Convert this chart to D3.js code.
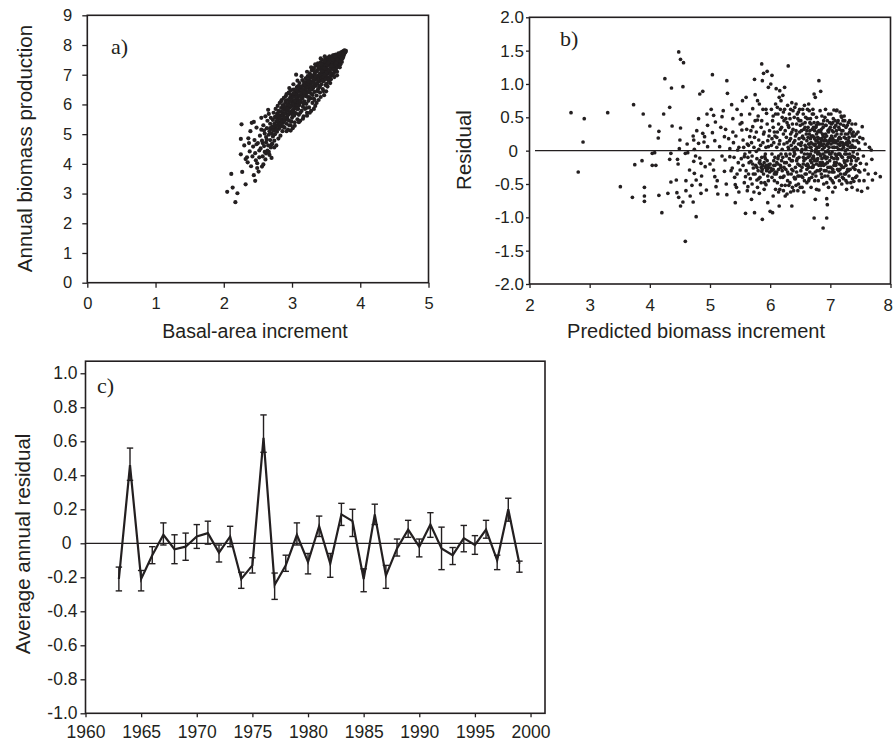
<!DOCTYPE html>
<html>
<head>
<meta charset="utf-8">
<script src="https://cdn.jsdelivr.net/npm/d3@7"></script>
<style>
  body { margin: 0; background: #fff; }
  svg text { font-family: "Liberation Sans", Arial, Helvetica, sans-serif; fill: #231f20; }
</style>
</head>
<body>
<svg id="fig" width="893" height="743"></svg>
<script>
// ---- panel a: basal-area increment vs annual biomass production ----
const basalVsBiomass = [
  [2.05,3.06],[2.11,3.66],[2.13,3.20],[2.17,2.71],[2.20,3.01],[2.25,4.32],[2.25,4.84],[2.26,5.33],
  [2.27,3.73],[2.32,3.31],[2.32,4.16],[2.30,4.62],[2.35,4.05],[2.36,4.86],[2.39,5.10],[2.38,4.42],
  [2.40,3.92],[2.42,4.25],[2.43,4.58],[2.44,5.41],[2.44,3.62],[2.45,4.80],[2.46,3.43],[2.47,4.12],
  [2.46,4.36],[2.48,4.66],[2.49,3.86],[2.48,5.22],[2.49,4.02],[2.41,5.38],[2.37,4.70],[2.34,4.22],
  [2.51,3.74],[2.52,4.45],[2.50,4.70],[2.53,4.95],[2.54,4.52],[2.55,5.15],[2.56,3.91],[2.57,4.25],
  [2.58,3.98],[2.56,4.78],[2.59,4.60],[2.58,5.30],[2.60,4.40],[2.55,5.55],[2.60,5.02],
  [2.61,4.15],[2.62,4.72],[2.62,4.90],[2.63,5.20],[2.64,4.45],[2.64,5.45],[2.65,4.62],[2.66,4.98],
  [2.66,5.68],[2.67,4.30],[2.67,5.10],[2.68,4.80],[2.68,5.35],[2.69,4.55],[2.69,5.55],[2.70,5.02],
  [2.70,4.20],[2.65,5.82],[2.61,5.60],
  [2.52,4.22],[2.57,4.70],[2.59,5.12],[2.62,4.35],[2.63,4.82],[2.66,4.40],[2.68,5.20],[2.70,4.65],
  [2.72,5.15],[2.74,4.55],
  [2.71,4.68],[2.71,5.25],[2.72,4.92],[2.72,5.48],[2.73,5.12],[2.73,5.72],[2.74,4.78],[2.74,5.35],
  [2.75,5.58],[2.75,5.00],[2.76,5.22],[2.76,5.85],[2.77,4.62],[2.77,5.42],[2.78,5.68],[2.78,5.08],
  [2.79,5.30],[2.79,5.95],[2.80,4.85],[2.80,5.52],
  [2.81,5.18],[2.81,5.75],[2.82,5.40],[2.82,6.05],[2.83,4.95],[2.83,5.62],[2.84,5.28],[2.84,5.88],
  [2.85,5.50],[2.85,6.15],[2.86,5.10],[2.86,5.72],[2.87,5.38],[2.87,5.98],[2.88,5.60],[2.88,6.22],
  [2.89,5.22],[2.89,5.82],[2.90,5.48],[2.90,6.05],[2.84,6.10],
  [2.91,5.70],[2.91,6.28],[2.92,5.35],[2.92,5.92],[2.93,5.58],[2.93,6.15],[2.94,5.15],[2.94,5.80],
  [2.95,6.02],[2.95,6.40],[2.96,5.45],[2.96,5.68],[2.97,6.22],[2.97,5.90],[2.98,5.30],[2.98,6.48],
  [2.99,5.75],[2.99,6.08],[3.00,5.55],[3.00,6.30],[3.00,5.95],
  [3.01,5.20],[3.01,6.12],[3.02,5.82],[3.02,6.50],[3.03,5.62],[3.03,6.28],[3.04,6.02],[3.04,5.40],
  [3.05,6.40],[3.05,5.92],[3.06,6.18],[3.06,7.00],[3.06,5.70],[3.07,6.58],[3.07,6.05],[3.08,5.50],
  [3.08,6.32],[3.09,5.85],[3.09,6.62],[3.10,6.15],[3.10,5.65],[3.10,6.45],
  [3.11,5.98],[3.11,6.72],[3.12,6.30],[3.12,5.45],[3.13,6.55],[3.13,6.08],[3.14,5.78],[3.14,6.40],
  [3.15,6.82],[3.15,6.20],[3.16,5.92],[3.16,6.62],[3.17,6.35],[3.17,5.60],[3.18,6.75],[3.18,6.10],
  [3.19,6.48],[3.19,5.85],[3.20,6.88],[3.20,6.28],[3.20,6.60],
  [3.21,6.02],[3.21,6.45],[3.22,6.72],[3.22,5.72],[3.23,6.25],[3.23,6.95],[3.24,6.55],[3.24,6.12],
  [3.25,6.80],[3.25,5.90],[3.26,6.40],[3.26,7.05],[3.27,6.65],[3.27,6.20],[3.28,5.78],[3.28,6.90],
  [3.29,6.50],[3.29,7.15],[3.30,6.32],[3.30,6.75],[3.30,6.05],
  [3.31,6.95],[3.31,6.55],[3.32,7.22],[3.32,6.20],[3.33,6.82],[3.33,6.42],[3.34,7.08],[3.34,5.95],
  [3.35,6.62],[3.35,7.30],[3.36,6.88],[3.36,6.30],[3.37,7.15],[3.37,6.70],[3.38,6.50],[3.38,7.38],
  [3.39,6.95],[3.39,6.15],[3.40,7.22],[3.40,6.78],[3.40,6.58],
  [3.41,7.05],[3.41,6.40],[3.42,7.42],[3.42,6.88],[3.43,6.68],[3.43,7.18],[3.44,6.95],[3.44,7.50],
  [3.45,6.52],[3.45,7.28],[3.46,7.05],[3.46,6.78],[3.47,6.31],[3.47,7.40],[3.48,7.15],[3.48,6.90],
  [3.49,7.55],[3.49,6.65],[3.50,6.44],[3.50,7.30],[3.50,7.02],
  [3.51,6.70],[3.51,7.48],[3.52,7.18],[3.52,6.92],[3.53,7.58],[3.53,7.05],[3.54,6.80],[3.54,7.35],
  [3.55,7.62],[3.55,7.12],[3.56,6.95],[3.56,7.45],[3.57,7.25],[3.57,6.85],[3.58,7.60],[3.58,7.05],
  [3.59,7.38],[3.59,6.98],[3.60,7.65],[3.60,7.20],
  [3.61,7.45],[3.61,7.05],[3.62,7.66],[3.62,7.28],[3.63,7.52],[3.63,7.12],[3.64,7.38],[3.64,7.68],
  [3.65,7.22],[3.65,7.58],[3.66,7.42],[3.66,7.10],[3.67,7.65],[3.67,7.32],[3.68,7.50],[3.68,7.72],
  [3.69,7.38],[3.69,7.60],[3.70,7.48],[3.70,7.70],
  [3.71,7.56],[3.71,7.35],[3.72,7.75],[3.72,7.62],[3.73,7.43],[3.73,7.68],[3.74,7.78],[3.74,7.55],
  [3.75,7.70],[3.75,7.60],[3.76,7.80],[3.76,7.66],[3.77,7.82],[3.77,7.72],[3.78,7.76],[3.79,7.80],
  [2.755,5.30],[2.765,5.55],[2.775,5.15],[2.785,5.45],[2.795,5.65],[2.805,5.35],[2.815,5.60],[2.825,5.25],
  [2.835,5.50],[2.845,5.75],[2.855,5.40],[2.865,5.62],[2.875,5.85],[2.885,5.45],[2.895,5.70],[2.905,5.90],
  [2.915,5.55],[2.925,5.78],[2.935,6.00],[2.945,5.65],[2.955,5.88],[2.965,6.10],[2.975,5.72],[2.985,5.95],
  [2.995,6.18],[3.005,5.80],[3.015,6.02],[3.025,6.25],[3.035,5.88],[3.045,6.12],[3.055,6.35],[3.065,5.98],
  [3.075,6.22],[3.085,6.45],[3.095,6.05],[3.105,6.30],[3.115,6.52],[3.125,6.12],[3.135,6.38],[3.145,6.60],
  [3.155,6.25],[3.165,6.48],[3.175,6.68],[3.185,6.32],[3.195,6.55],[3.205,6.75],[3.215,6.38],[3.225,6.60],
  [3.235,6.82],[3.245,6.45],[3.255,6.68],[3.265,6.90],[3.275,6.52],[3.285,6.75],[3.295,6.95],[3.305,6.58],
  [3.315,6.82],[3.325,7.02],[3.335,6.65],[3.345,6.88],[3.355,7.10],[3.365,6.72],[3.375,6.95],[3.385,7.18],
  [3.395,6.80],[3.405,7.02],[3.415,7.25],[3.425,6.85],[3.435,7.08],[3.445,7.30],[3.455,6.92],[3.465,7.15],
  [3.475,7.35],[3.485,7.00],[3.495,7.22],[3.505,7.42],[3.515,7.08],[3.525,7.30],[3.535,7.48],[3.545,7.15],
  [3.555,7.36],[3.565,7.55],[3.575,7.20],[3.585,7.42],[3.595,7.58],[3.605,7.28],[3.615,7.50],[3.625,7.62],
  [3.635,7.35],[3.645,7.55],[3.655,7.66],[3.665,7.45],[3.675,7.58],[3.685,7.68],[3.695,7.52],[3.705,7.62],
  [3.715,7.72],[3.725,7.52],[3.735,7.62],[3.745,7.70],
  [2.92,6.35],[2.96,6.55],[3.02,6.68],[3.08,6.80],[3.14,6.95],[3.22,7.10],[3.28,7.25],[3.34,7.35],
  [3.42,7.55],[3.48,7.62],[2.92,5.10],[2.98,5.12],[3.04,5.28],[3.10,5.40],[3.16,5.52],[3.22,5.62],
  [3.26,5.72],[3.32,5.85],[3.36,6.05],[3.42,6.25],[3.46,6.45],[3.52,6.60],[3.56,6.72],[3.62,6.92],
  [3.66,6.98],[3.70,7.25],
  [2.80,5.78],[2.83,5.33],[2.86,5.95],[2.89,5.55],[2.91,6.12],[2.94,5.48],[2.97,6.35],[2.99,5.42],
  [3.02,6.38],[3.04,5.72],[3.06,6.48],[3.08,5.95],[3.11,6.60],[3.12,5.72],[3.15,6.48],[3.17,6.02],
  [3.19,6.65],[3.21,5.88],[3.23,6.70],[3.25,6.25],[3.27,6.98],[3.29,6.35],[3.31,6.72],[3.33,6.15],
  [3.35,6.95],[3.37,6.45],[3.39,7.28],[3.41,6.62],[3.43,7.35],[3.45,6.80],[3.47,7.22],[3.49,6.85],
  [3.51,7.35],[3.53,6.85],[3.55,7.48],[3.57,7.05],[3.59,7.52],[3.61,7.18],[3.63,7.62],[3.65,7.40],
  [3.67,7.50],[3.69,7.70],[3.71,7.45],[3.73,7.55],[2.78,5.28],[2.82,5.55],[2.87,5.25],[2.93,5.85],
  [2.96,5.30],[3.01,5.65],[3.07,5.85],[3.13,6.25],[3.18,6.40],[3.24,6.78],[3.28,6.62],[3.33,7.12],
  [3.38,6.82],[3.44,7.12],[3.48,7.45],[3.53,7.40],[3.58,7.30]
];
const aTicksX = [0, 1, 2, 3, 4, 5];
const aTicksY = [0, 1, 2, 3, 4, 5, 6, 7, 8, 9];

// ---- panel b: predicted biomass increment vs residual ----
const predictedVsResidual = [
  [2.69,0.57],[2.91,0.48],[2.89,0.13],[2.81,-0.32],[3.30,0.57],[3.73,0.69],[3.89,0.55],[4.00,0.37],
  [3.51,-0.54],[3.75,-0.21],[3.87,-0.15],[4.04,-0.22],[4.08,-0.03],[3.91,-0.55],[3.91,-0.68],
  [3.91,-0.76],[3.71,-0.70],
  [4.04,-0.04],[4.10,-0.22],[4.14,0.19],[4.15,0.29],[4.20,-0.93],[4.15,-0.67],[4.25,1.08],[4.23,0.55],
  [4.33,0.65],[4.36,0.94],[4.37,0.37],[4.35,-0.04],[4.33,-0.13],[4.35,-0.47],[4.30,-0.64],[4.44,-0.44],
  [4.46,-0.13],[4.47,-0.20],[4.51,0.34],[4.50,0.16],[4.49,0.03],[4.48,1.48],[4.51,1.37],[4.56,1.32],
  [4.55,0.96],[4.45,-0.63],[4.48,-0.70],[4.51,-0.83],[4.55,-0.77],[4.60,-0.45],[4.59,-0.04],[4.63,-0.03],
  [4.59,-1.36],[4.60,-0.60],[4.66,-0.29],[4.67,-0.68],[4.72,-0.77],[4.72,0.22],[4.73,0.16],[4.74,0.02],
  [4.76,-0.08],[4.73,-0.16],[4.74,-0.34],[4.77,-0.44],[4.77,-0.99],[4.81,0.48],[4.83,0.85],[4.88,0.89],
  [4.81,0.11],[4.83,-0.11],[4.85,-0.19],[4.84,-0.51],[4.85,-0.64],[4.88,0.26],[4.90,0.13],[4.91,0.21],
  [4.92,-0.24],[4.94,-0.59],[4.96,0.38],[4.96,0.06],
  [4.62,0.10],[4.70,-0.52],[4.78,0.30],[4.86,-0.38],[4.95,0.55],[5.00,-0.20],[5.08,0.15],[5.12,-0.45],
  [5.18,0.35],[5.20,-0.08],[5.27,-0.50],[5.31,0.18],[5.35,-0.30],[5.45,0.62],[5.48,-0.62],
  [5.04,1.14],[5.02,0.62],[5.06,0.53],[5.09,0.43],[5.05,-0.14],[5.06,-0.29],[5.08,-0.39],[5.10,-0.54],
  [5.04,0.27],[5.16,0.06],[5.13,-0.65],[5.22,0.60],[5.20,0.51],[5.26,0.32],[5.24,0.21],[5.25,-0.14],
  [5.24,-0.31],[5.28,1.05],[5.29,0.86],[5.28,-0.66],[5.33,0.03],[5.33,-0.09],[5.36,0.69],[5.38,0.48],
  [5.38,0.28],[5.39,0.12],[5.37,-0.26],[5.41,-0.40],[5.42,-0.51],[5.42,-0.78],[5.46,0.01],[5.47,-0.18],
  [5.50,-0.29],[5.52,0.54],[5.53,0.31],[5.54,0.75],[5.55,0.16],[5.57,-0.09],[5.59,-0.39],[5.59,-0.94],
  [5.60,0.80],[5.63,-0.54],[5.64,0.08],[5.66,0.21],[5.68,-0.16],[5.69,-0.73],[5.71,0.63],[5.71,0.36],
  [5.72,-0.26],[5.74,1.07],[5.74,-0.93],[5.75,0.84],[5.77,-0.01],[5.78,-0.44],[5.79,0.75],[5.79,0.46],
  [5.81,0.16],[5.82,-0.64],[5.83,-0.15],[5.85,-0.25],[5.86,-0.31],[5.86,1.30],[5.87,1.05],[5.87,-1.03],
  [5.89,1.16],[5.90,0.28],[5.91,-0.09],[5.93,-0.51],[5.94,0.56],[5.95,1.19],[5.96,-0.78],[5.97,0.95],
  [5.97,0.06],[5.98,-0.21],[6.00,-0.91],
  [5.40,-0.10],[5.43,0.22],[5.45,-0.35],[5.48,0.05],[5.44,-0.55],[5.50,0.40],
  [5.55,-0.22],[5.58,-0.05],[5.60,-0.30],[5.62,0.10],[5.65,-0.18],[5.67,-0.42],[5.70,-0.08],[5.72,-0.35],
  [5.74,0.20],[5.76,-0.22],[5.78,-0.12],[5.80,-0.30],[5.81,0.02],[5.83,-0.40],[5.84,-0.20],[5.86,-0.10],
  [5.87,-0.28],[5.88,0.12],[5.89,-0.35],[5.90,-0.18],[5.91,-0.48],[5.92,-0.25],[5.93,0.05],[5.94,-0.30],
  [5.95,-0.15],[5.96,-0.38],[5.97,-0.25],[5.98,0.22],[5.99,-0.32],[6.00,-0.20],[5.85,0.35],[5.75,0.45],
  [5.68,0.30],[5.62,-0.60],[5.79,-0.55],[5.95,0.40],[5.88,0.62],[5.82,0.70],[5.73,-0.62],[5.66,0.55],
  [5.52,-0.12],[5.53,0.42],[5.56,0.05],[5.57,-0.48],[5.61,0.32],[5.63,-0.10],[5.64,-0.35],[5.66,-0.02],
  [5.69,0.12],[5.70,-0.50],[5.71,-0.20],[5.73,0.05],[5.75,-0.35],[5.77,0.28],[5.78,-0.25],[5.80,0.52],
  [5.81,-0.42],[5.82,-0.18],[5.84,0.08],[5.85,-0.48],[5.86,0.45],[5.88,-0.22],[5.89,0.25],[5.90,-0.58],
  [5.92,-0.05],[5.93,0.62],[5.94,-0.22],[5.96,0.15],[5.97,-0.45],[5.99,0.30],
  [6.01,1.00],[6.03,1.13],[6.04,-0.93],[6.02,0.62],[6.05,0.35],[6.06,0.12],[6.03,-0.05],[6.08,-0.22],
  [6.02,-0.30],[6.07,-0.45],[6.09,-0.58],[6.04,0.45],[6.06,-0.15],[6.08,0.22],[6.10,0.93],[6.05,-0.68],
  [6.09,0.55],[6.01,-0.26],[6.07,-0.35],[6.03,0.18],
  [6.15,0.80],[6.16,0.90],[6.15,-0.83],[6.12,0.65],[6.14,0.40],[6.11,0.05],[6.13,-0.12],[6.18,-0.25],
  [6.17,-0.40],[6.19,-0.52],[6.12,0.28],[6.16,0.15],[6.18,-0.05],[6.14,-0.62],[6.20,0.50],[6.11,-0.32],
  [6.19,0.35],[6.13,-0.20],[6.17,0.62],
  [6.21,0.83],[6.24,0.95],[6.30,1.27],[6.22,0.58],[6.25,0.30],[6.23,0.10],[6.27,-0.08],[6.26,-0.28],
  [6.29,-0.45],[6.22,-0.60],[6.28,0.42],[6.24,-0.18],[6.27,0.20],[6.30,-0.35],[6.21,-0.10],[6.29,0.68],
  [6.25,-0.52],[6.23,0.45],[6.28,-0.65],
  [6.36,-0.83],[6.32,0.55],[6.34,0.25],[6.31,0.02],[6.35,-0.15],[6.38,-0.30],[6.33,-0.48],[6.37,0.40],
  [6.39,0.12],[6.32,-0.22],[6.36,0.72],[6.40,-0.40],[6.34,-0.62],[6.38,0.60],[6.31,0.35],[6.35,0.08],
  [6.39,-0.08],[6.33,0.48],[6.37,-0.55],
  [6.41,0.65],[6.43,0.30],[6.42,0.05],[6.45,-0.12],[6.44,-0.32],[6.47,-0.50],[6.46,0.48],[6.48,0.18],
  [6.49,-0.22],[6.41,-0.05],[6.43,0.70],[6.50,0.38],[6.46,-0.60],[6.42,0.22],[6.48,-0.38],[6.45,0.55],
  [6.47,0.10],[6.44,-0.15],[6.49,0.62],[6.41,-0.42],
  [6.02,0.08],[6.03,-0.40],[6.05,0.52],[6.06,-0.22],[6.07,0.28],[6.08,-0.10],[6.09,0.70],[6.10,-0.35],
  [6.11,0.20],[6.12,-0.48],[6.13,0.55],[6.14,-0.28],[6.15,0.10],[6.16,-0.58],[6.17,0.32],[6.18,0.75],
  [6.19,-0.15],[6.20,0.02],[6.21,-0.40],[6.22,0.25],[6.23,-0.25],[6.24,0.62],[6.25,-0.68],[6.26,0.48],
  [6.27,-0.18],[6.28,0.12],[6.29,-0.32],[6.30,0.38],[6.31,-0.52],[6.32,0.15],[6.33,-0.05],[6.34,0.62],
  [6.35,-0.35],[6.36,0.28],[6.37,-0.15],[6.38,0.02],[6.39,-0.60],[6.40,0.50],[6.41,0.15],[6.42,-0.25],
  [6.43,-0.52],[6.44,0.40],[6.45,0.02],[6.46,-0.38],[6.47,0.58],[6.48,-0.10],[6.49,0.28],[6.50,-0.55],
  [6.51,0.45],[6.53,0.20],[6.52,-0.02],[6.55,-0.20],[6.54,-0.40],[6.57,0.68],[6.56,0.32],[6.58,0.08],
  [6.59,-0.12],[6.51,-0.30],[6.53,-0.55],[6.55,0.55],[6.57,-0.05],[6.60,0.25],[6.52,0.12],[6.58,-0.35],
  [6.54,0.40],[6.56,-0.62],[6.59,0.50],[6.60,-0.22],[6.53,0.02],
  [6.61,0.15],[6.62,-0.05],[6.63,0.35],[6.64,-0.25],[6.65,0.60],[6.66,0.05],[6.67,-0.15],[6.68,0.22],
  [6.69,-0.40],[6.62,0.48],[6.64,0.10],[6.66,-0.32],[6.68,0.40],[6.61,-0.48],[6.63,-0.10],[6.65,0.25],
  [6.67,0.18],[6.69,0.00],[6.70,0.55],[6.62,-0.20],[6.66,0.30],[6.68,-0.55],[6.64,0.70],
  [6.73,0.85],[6.75,0.80],[6.75,-0.73],[6.73,-1.01],[6.71,0.10],[6.72,-0.08],[6.74,0.30],[6.76,0.15],
  [6.77,-0.20],[6.78,0.05],[6.79,0.42],[6.71,-0.35],[6.73,0.20],[6.75,-0.02],[6.77,0.25],[6.79,-0.12],
  [6.72,0.55],[6.74,-0.45],[6.76,0.35],[6.78,-0.30],[6.80,0.12],[6.71,0.62],[6.77,-0.58],[6.74,0.08],
  [6.79,0.20],
  [6.81,1.05],[6.84,0.89],[6.81,-0.59],[6.88,-1.16],[6.82,0.18],[6.83,-0.05],[6.85,0.32],[6.86,0.08],
  [6.87,-0.18],[6.89,0.45],[6.82,-0.30],[6.84,0.12],[6.86,-0.40],[6.88,0.22],[6.90,-0.10],[6.83,0.60],
  [6.85,-0.22],[6.87,0.02],[6.89,-0.50],[6.81,0.30],[6.86,0.52],[6.90,0.15],[6.84,-0.08],
  [6.94,-0.72],[6.95,-0.81],[6.94,-1.01],[6.91,0.20],[6.92,-0.02],[6.93,0.38],[6.95,0.10],[6.96,-0.25],
  [6.97,0.55],[6.98,0.05],[6.99,-0.15],[6.91,-0.38],[6.93,0.15],[6.95,-0.10],[6.97,0.28],[6.99,0.42],
  [6.92,0.62],[6.94,-0.48],[6.96,0.00],[6.98,-0.32],[7.00,0.18],[6.92,-0.20],[6.97,-0.55],
  [6.51,0.08],[6.52,0.30],[6.53,-0.25],[6.54,0.62],[6.55,-0.10],[6.56,0.18],[6.57,-0.45],[6.58,0.42],
  [6.59,0.02],[6.60,-0.35],[6.61,0.30],[6.62,0.62],[6.63,-0.22],[6.64,-0.45],[6.65,0.10],[6.66,-0.08],
  [6.67,0.48],[6.68,0.05],[6.69,-0.25],[6.70,0.32],[6.70,-0.12],[6.71,0.22],[6.72,-0.22],[6.73,0.42],
  [6.74,-0.15],[6.75,0.10],[6.76,-0.38],[6.77,0.50],[6.78,0.15],[6.79,-0.05],[6.80,-0.45],[6.81,0.05],
  [6.82,0.40],[6.83,-0.18],[6.84,0.28],[6.85,-0.35],[6.86,0.18],[6.87,0.40],[6.88,-0.05],[6.89,0.10],
  [6.90,-0.30],[6.91,0.50],[6.92,0.25],[6.93,-0.12],[6.94,0.08],[6.95,0.45],[6.96,-0.38],[6.97,0.12],
  [6.98,0.32],[6.99,-0.05],[7.00,-0.42],
  [7.01,0.10],[7.02,-0.10],[7.03,0.30],[7.04,-0.28],[7.05,0.48],[7.06,0.05],[7.07,-0.18],[7.08,0.22],
  [7.09,-0.40],[7.01,0.55],[7.03,-0.02],[7.05,-0.48],[7.06,0.61],[7.07,0.35],[7.09,0.12],[7.10,-0.08],
  [7.02,0.40],[7.04,0.18],[7.08,-0.55],[7.10,0.60],[7.04,-0.62],[7.06,-0.32],
  [7.11,0.61],[7.19,0.50],[7.12,0.15],[7.13,-0.05],[7.14,0.35],[7.15,-0.20],[7.16,0.08],[7.17,-0.35],
  [7.18,0.25],[7.11,-0.12],[7.13,0.45],[7.15,-0.45],[7.16,0.58],[7.18,-0.08],[7.20,0.12],[7.12,-0.28],
  [7.14,0.02],[7.17,0.40],[7.19,-0.50],[7.15,0.20],[7.20,-0.25],
  [7.21,0.30],[7.22,0.05],[7.23,-0.15],[7.24,0.45],[7.25,-0.35],[7.26,0.18],[7.27,-0.05],[7.28,-0.48],
  [7.29,0.25],[7.22,-0.25],[7.24,0.10],[7.26,-0.22],[7.28,0.38],[7.30,-0.10],[7.23,0.52],[7.27,-0.58],
  [7.25,0.00],[7.30,0.15],
  [7.01,-0.25],[7.02,0.22],[7.03,-0.45],[7.04,0.42],[7.05,0.12],[7.06,-0.12],[7.07,0.05],[7.08,0.45],
  [7.09,-0.22],[7.10,0.30],[7.11,0.05],[7.12,0.42],[7.13,-0.38],[7.14,0.18],[7.15,-0.05],[7.16,-0.28],
  [7.17,0.12],[7.18,0.52],[7.19,0.02],[7.20,-0.40],[7.21,0.08],[7.22,0.38],[7.23,-0.35],[7.24,-0.05],
  [7.25,0.25],[7.26,-0.45],[7.27,0.12],[7.28,0.02],[7.29,-0.28],[7.30,0.42],[7.31,-0.38],[7.32,0.12],
  [7.33,0.32],[7.34,-0.48],[7.35,0.05],[7.36,0.25],[7.37,-0.08],[7.38,-0.25],[7.39,0.05],[7.41,-0.28],
  [7.43,0.25],[7.44,-0.38],[7.46,-0.12],[7.47,0.12],[7.49,-0.32],
  [7.31,0.20],[7.32,-0.05],[7.33,-0.28],[7.34,0.32],[7.35,-0.15],[7.36,0.08],[7.37,-0.42],[7.38,0.15],
  [7.39,-0.46],[7.32,0.45],[7.34,-0.20],[7.36,-0.55],[7.38,0.28],[7.40,-0.10],[7.33,0.05],[7.37,0.22],
  [7.42,0.40],[7.46,0.28],[7.45,-0.59],[7.41,0.05],[7.43,-0.15],[7.44,0.15],[7.47,-0.30],[7.48,0.02],
  [7.50,-0.19],[7.42,-0.40],[7.49,0.20],[7.45,-0.05],[7.48,-0.45],
  [7.53,0.36],[7.52,-0.61],[7.57,-0.29],[7.55,-0.08],[7.58,0.10],[7.62,-0.56],[7.60,-0.20],[7.65,0.05],
  [7.68,0.01],[7.69,-0.13],[7.70,-0.44],[7.75,-0.34],[7.83,-0.39],[7.56,-0.45],[7.63,-0.35],[7.54,0.18],
  [6.30,0.05],[6.32,-0.12],[6.34,0.18],[6.36,-0.28],[6.38,0.32],[6.40,-0.02],[6.42,-0.42],[6.44,0.25],
  [6.46,-0.20],[6.48,0.45],[6.50,0.10],[6.52,-0.38],[6.54,0.22],[6.56,-0.15],[6.58,0.35],[6.60,0.05],
  [6.61,-0.28],[6.63,0.20],[6.65,-0.42],[6.66,0.42],[6.67,-0.05],[6.68,0.12],[6.69,-0.18],[6.70,0.22],
  [6.71,-0.25],[6.72,0.35],[6.73,-0.12],[6.74,0.18],[6.75,-0.32],[6.76,0.02],[6.77,0.38],[6.78,-0.15],
  [6.79,0.28],[6.80,-0.02],[6.81,-0.22],[6.82,0.08],[6.83,0.30],[6.84,-0.28],[6.85,0.15],[6.86,-0.12],
  [6.87,0.25],[6.88,0.35],[6.89,-0.22],[6.90,0.05],[6.91,-0.08],[6.92,0.38],[6.93,-0.30],[6.94,0.22],
  [6.95,-0.18],[6.96,0.30],[6.97,-0.02],[6.98,0.15],[6.99,-0.25],[7.00,0.35],[7.01,-0.05],[7.02,0.15],
  [7.03,-0.32],[7.04,0.05],[7.05,0.28],[7.06,-0.22],[7.07,0.15],[7.08,-0.05],[7.09,0.38],[7.10,-0.18],
  [7.11,0.25],[7.12,-0.12],[7.13,0.10],[7.14,-0.30],[7.15,0.32],[7.16,-0.05],[7.17,0.18],[7.18,-0.22],
  [7.19,0.30],[7.20,-0.10],[7.21,0.45],[7.22,-0.42],[7.23,0.20],[7.24,-0.18],[7.25,0.10],[7.26,0.35],
  [7.27,-0.32],[7.28,-0.15],[7.29,0.08],[7.30,-0.30],[7.32,0.28],[7.34,-0.10],[7.36,0.40],[7.38,-0.02],
  [7.40,0.22],[7.42,-0.22],[6.05,-0.28],[6.08,-0.32],[6.11,-0.18],[6.14,-0.08],[6.17,-0.22],[6.20,-0.30],
  [6.23,-0.38],[6.26,-0.05],[5.92,-0.12],[5.95,-0.28]
];
const bTicksX = [2, 3, 4, 5, 6, 7, 8];
const bTicksY = [-2, -1.5, -1, -0.5, 0, 0.5, 1, 1.5, 2];

// ---- panel c: average annual residual by year, with error-bar ends ----
const years = [1963,1964,1965,1966,1967,1968,1969,1970,1971,1972,1973,1974,1975,1976,1977,1978,1979,1980,1981,
               1982,1983,1984,1985,1986,1987,1988,1989,1990,1991,1992,1993,1994,1995,1996,1997,1998,1999];
const meanResidual = [-0.21,0.46,-0.21,-0.07,0.05,-0.035,-0.02,0.04,0.06,-0.055,0.04,-0.21,-0.13,0.62,-0.245,-0.13,0.05,-0.11,0.10,
                      -0.12,0.17,0.13,-0.21,0.17,-0.19,-0.03,0.08,-0.02,0.11,-0.03,-0.07,0.03,-0.01,0.08,-0.10,0.20,-0.12];
const barLow  = [-0.28,0.37,-0.28,-0.12,-0.01,-0.12,-0.10,-0.03,-0.005,-0.11,-0.02,-0.265,-0.175,0.535,-0.33,-0.165,-0.01,-0.18,0.04,
                 -0.20,0.105,0.04,-0.285,0.11,-0.265,-0.075,0.035,-0.08,0.035,-0.155,-0.125,-0.05,-0.065,0.03,-0.155,0.13,-0.17];
const barHigh = [-0.14,0.56,-0.16,-0.02,0.12,0.05,0.06,0.11,0.13,-0.01,0.10,-0.17,-0.085,0.755,-0.175,-0.07,0.12,-0.06,0.16,
                 -0.06,0.235,0.20,-0.15,0.23,-0.13,0.025,0.135,0.025,0.18,0.095,-0.025,0.105,0.045,0.135,-0.07,0.265,-0.105];
const cTicksX = [1960, 1965, 1970, 1975, 1980, 1985, 1990, 1995, 2000];
const cTicksY = [-1, -0.8, -0.6, -0.4, -0.2, 0, 0.2, 0.4, 0.6, 0.8, 1];

const ink = "#231f20";
const svg = d3.select("#fig");

// Draws a boxed frame plus outward ticks for one panel.
function frame(x, y, opts) {
  const [x0, x1] = x.range();
  const [y0, y1] = y.range();
  const g = svg.append("g");
  g.append("rect")
    .attr("x", x0).attr("y", y1).attr("width", x1 - x0).attr("height", y0 - y1)
    .attr("fill", "none").attr("stroke", ink).attr("stroke-width", 1.6);

  const ax = g.append("g").attr("transform", `translate(0,${y0})`)
    .call(d3.axisBottom(x).tickValues(opts.xTicks).tickSize(opts.xTickLen).tickSizeOuter(0).tickFormat(opts.xFmt));
  ax.select(".domain").remove();
  ax.selectAll("line").attr("stroke", ink).attr("stroke-width", 1.3);
  ax.selectAll("text").attr("dy", null).attr("y", opts.xLabelY)
    .attr("fill", ink).style("font-size", opts.fontSize + "px");
  if (opts.lastAnchorEnd) {
    // keep the right-most tick label inside the page
    ax.selectAll("text").filter(d => d === opts.xTicks[opts.xTicks.length - 1])
      .attr("text-anchor", "end").attr("dx", 2);
  }

  const ay = g.append("g").attr("transform", `translate(${x0},0)`)
    .call(d3.axisLeft(y).tickValues(opts.yTicks).tickSize(opts.yTickLen).tickPadding(opts.yPad).tickSizeOuter(0).tickFormat(opts.yFmt));
  ay.select(".domain").remove();
  ay.selectAll("line").attr("stroke", ink).attr("stroke-width", 1.3);
  ay.selectAll("text").attr("fill", ink).style("font-size", opts.fontSize + "px")
    .attr("dx", d => (d === 0 && opts.zeroShift) ? -opts.zeroShift : 0);
  return g;
}

function yTitle(text, x, y, size) {
  svg.append("text").attr("transform", `translate(${x},${y}) rotate(-90)`)
    .attr("text-anchor", "middle").style("font-size", size + "px").text(text);
}
function xTitle(text, x, y, size) {
  svg.append("text").attr("x", x).attr("y", y)
    .attr("text-anchor", "middle").style("font-size", size + "px").text(text);
}
function panelTag(text, x, y) {
  svg.append("text").attr("x", x).attr("y", y)
    .style("font-family", '"Liberation Serif", "Times New Roman", serif')
    .style("font-size", "22px").text(text);
}

const signed = d => (d === 0 ? "0" : d3.format(".1f")(d).replace("\u2212", "-"));

// ---------- panel a ----------
const xa = d3.scaleLinear().domain([0, 5]).range([87.3, 428.5]);
const ya = d3.scaleLinear().domain([0, 9]).range([282.7, 15.3]);
frame(xa, ya, { xTicks: aTicksX, yTicks: aTicksY, xTickLen: 5, yTickLen: 5, yPad: 10,
  xLabelY: 26.5, fontSize: 16.5, xFmt: d3.format("d"), yFmt: d3.format("d") });
svg.append("g").selectAll("circle").data(basalVsBiomass).join("circle")
  .attr("cx", d => xa(d[0])).attr("cy", d => ya(d[1])).attr("r", 2.1).attr("fill", ink);
panelTag("a)", 111, 53.5);
yTitle("Annual biomass production", 31.5, 148.5, 20.5);
xTitle("Basal-area increment", 255, 338, 19.5);

// ---------- panel b ----------
const xb = d3.scaleLinear().domain([2, 8]).range([529.5, 890.5]);
const yb = d3.scaleLinear().domain([-2, 2]).range([284, 17.3]);
frame(xb, yb, { xTicks: bTicksX, yTicks: bTicksY, xTickLen: 4, yTickLen: 3.5, yPad: 2,
  xLabelY: 27, fontSize: 17, xFmt: d3.format("d"), yFmt: signed, zeroShift: 6, lastAnchorEnd: true });
svg.append("line").attr("x1", 535).attr("x2", 885.5).attr("y1", yb(0)).attr("y2", yb(0))
  .attr("stroke", ink).attr("stroke-width", 1.2);
svg.append("g").selectAll("circle").data(predictedVsResidual).join("circle")
  .attr("cx", d => xb(d[0])).attr("cy", d => yb(d[1])).attr("r", 1.85).attr("fill", ink);
panelTag("b)", 560, 45.5);
yTitle("Residual", 471, 150, 20.5);
xTitle("Predicted biomass increment", 696, 338, 20);

// ---------- panel c ----------
const xc = d3.scaleLinear().domain([1960, 2001.3]).range([85.5, 545]);
const yc = d3.scaleLinear().domain([-1, 1.071]).range([713.3, 361.2]);
frame(xc, yc, { xTicks: cTicksX, yTicks: cTicksY, xTickLen: 4, yTickLen: 5, yPad: 3,
  xLabelY: 25, fontSize: 17.5, xFmt: d3.format("d"), yFmt: signed, zeroShift: 6 });
svg.append("line").attr("x1", 86).attr("x2", 542).attr("y1", yc(0)).attr("y2", yc(0))
  .attr("stroke", ink).attr("stroke-width", 1.2);

const bars = svg.append("g").attr("stroke", ink).attr("stroke-width", 1.4).attr("fill", "none");
years.forEach((yr, i) => {
  const cx = xc(yr), lo = yc(barLow[i]), hi = yc(barHigh[i]);
  bars.append("line").attr("x1", cx).attr("x2", cx).attr("y1", lo).attr("y2", hi);
  bars.append("line").attr("x1", cx - 3.2).attr("x2", cx + 3.2).attr("y1", lo).attr("y2", lo);
  bars.append("line").attr("x1", cx - 3.2).attr("x2", cx + 3.2).attr("y1", hi).attr("y2", hi);
});
svg.append("path").datum(years.map((yr, i) => [yr, meanResidual[i]]))
  .attr("fill", "none").attr("stroke", ink).attr("stroke-width", 2.2).attr("stroke-linejoin", "miter")
  .attr("d", d3.line().x(d => xc(d[0])).y(d => yc(d[1])));
panelTag("c)", 97, 393);
yTitle("Average annual residual", 30, 544, 20.5);
</script>
</body>
</html>
